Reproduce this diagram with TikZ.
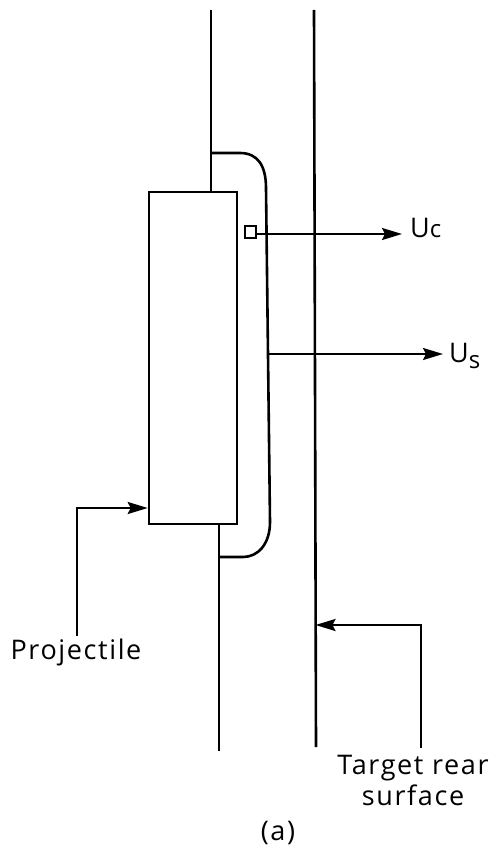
\documentclass[tikz,border=0pt]{standalone}
\usepackage{fontspec}
\setmainfont[LetterSpace=6]{Open Sans}
\usetikzlibrary{arrows.meta}
\tikzset{
  wall/.style={line width=2.6pt},
  lead/.style={line width=2.2pt, -{Stealth[length=20pt,width=12pt,inset=3pt]}},
  lettering/.style={inner sep=0pt, font=\fontsize{27}{31}\selectfont, align=center},
}

\begin{document}
\begin{tikzpicture}[x=1pt, y=-1pt, >=Stealth]

\useasboundingbox (0,0) rectangle (493,848);

\def\Xf{211}
\def\Xb{219}
\def\Yb{153}
\def\Yc{557}

% projectile and gauge
\node[wall, draw, minimum width=88pt, minimum height=332pt, inner sep=0pt] (projectile) at (193,358) {};
\node[draw, line width=2pt, minimum width=11pt, minimum height=12pt, inner sep=0pt] (gauge) at (250.5,232) {};

% target front face
\coordinate (fronttop) at (\Xf,10);
\coordinate (frontmid) at (\Xf,192);
\coordinate (backmid) at (\Xb,524);
\coordinate (backbot) at (\Xb,751);
\draw[wall] (fronttop) -- (frontmid);
\draw[wall] (backmid) -- (backbot);

% bulge
\coordinate (bulgetop) at (\Xf,\Yb);
\coordinate (bulgebot) at (\Xb,\Yc);
\draw[wall] (bulgetop) -- (240,\Yb) .. controls (258,\Yb) and (266,166) .. (266,188)
  -- (270,522) .. controls (270,544) and (258,\Yc) .. (243,\Yc) -- (bulgebot);

% rear surface
\coordinate (reartop) at (314,10);
\coordinate (rearbot) at (316,747);
\draw[wall] (reartop) -- (rearbot);

% velocities
\node[lettering, anchor=base west] (uc) at (410,237) {U\fontsize{24}{24}\selectfont c};
\node[lettering, anchor=base west] (us) at (449,362) {U\raisebox{-6pt}{\fontsize{24}{24}\selectfont s}};
\coordinate (usstart) at (267.5,354);
\coordinate (usend) at (443,354);
\coordinate (ucend) at (402,234);
\draw[lead] (gauge.east |- ucend) -- (ucend);
\draw[lead] (usstart) -- (usend);

% labels
\node[lettering] (projlabel) at (76,652) {Projectile};
\node[lettering] (rearlabel) at (413,780) {Target rear\\surface};
\node[lettering] (caption) at (278,833) {(a)};

\coordinate (projfoot) at (77,636);
\coordinate (projbend) at (77,508);
\draw[lead] (projfoot) -- (projbend) -- (projectile.west |- projbend);

\coordinate (rearfoot) at (421,748);
\coordinate (rearbend) at (421,625);
\coordinate (rearhit) at (315.5,625);
\draw[lead] (rearfoot) -- (rearbend) -- (rearhit);

\end{tikzpicture}
\end{document}
